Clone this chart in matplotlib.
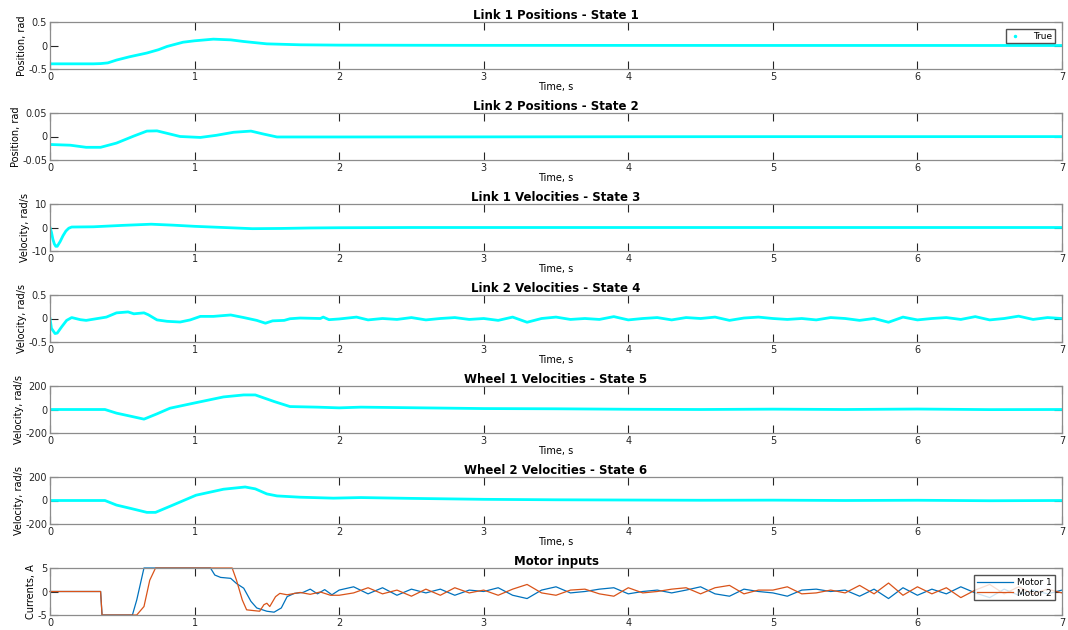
import matplotlib.pyplot as plt
from matplotlib.lines import Line2D
from matplotlib.ticker import FuncFormatter
import numpy as np

plt.rcParams['font.family'] = 'DejaVu Sans'
plt.rcParams['axes.unicode_minus'] = False

# Link 1 position
t_p1 = [0, 0.1, 0.2, 0.3, 0.35, 0.4, 0.46, 0.55, 0.67, 0.75, 0.81, 0.92, 1.0, 1.13,
        1.25, 1.34, 1.5, 1.73, 2.0, 2.5, 3, 4, 5, 6, 7]
pos1 = [-0.39, -0.39, -0.39, -0.39, -0.385, -0.37, -0.31, -0.24, -0.16, -0.09, -0.02,
        0.07, 0.1, 0.135, 0.12, 0.085, 0.035, 0.015, 0.008, 0.005, 0.003, 0.002, 0.001,
        0.001, 0.0]

# Link 2 position
t_p2 = [0, 0.14, 0.25, 0.35, 0.46, 0.58, 0.67, 0.74, 0.82, 0.9, 1.04, 1.15, 1.27, 1.39,
        1.48, 1.57, 2, 3, 4, 5, 6, 7]
pos2 = [-0.017, -0.0185, -0.023, -0.023, -0.014, 0.001, 0.0115, 0.012, 0.006, 0.0,
        -0.002, 0.0025, 0.009, 0.0115, 0.005, -0.001, -0.001, -0.0008, -0.0005, -0.0003,
        -0.0003, -0.0002]

# Link 1 velocity
t_v1 = [0, 0.01, 0.02, 0.03, 0.04, 0.05, 0.07, 0.09, 0.11, 0.13, 0.15, 0.3, 0.5, 0.7,
        0.85, 1.0, 1.2, 1.4, 1.6, 1.8, 2.0, 2.5, 3, 4, 5, 6, 7]
vel1 = [0, -2, -5, -7, -8, -8, -6, -3.5, -1.5, -0.3, 0.2, 0.3, 0.9, 1.4, 1.0, 0.5, 0,
        -0.5, -0.4, -0.2, -0.1, 0, 0, 0, 0, 0, 0]

# Link 2 velocity
t_v2 = [0, 0.01, 0.035, 0.05, 0.08, 0.115, 0.15, 0.21, 0.25, 0.35, 0.39, 0.46, 0.54,
        0.58, 0.65, 0.68, 0.74, 0.81, 0.9, 0.97, 1.04, 1.13, 1.25, 1.34, 1.43, 1.49,
        1.54, 1.62, 1.66, 1.73, 1.87, 1.89, 1.93, 2.0, 2.12,
        2.2, 2.3, 2.4, 2.5, 2.6, 2.7, 2.8, 2.9, 3.0, 3.1, 3.2, 3.3, 3.4, 3.5, 3.6, 3.7,
        3.8, 3.9, 4.0, 4.1, 4.2, 4.3, 4.4, 4.5, 4.6, 4.7, 4.8, 4.9, 5.0, 5.1, 5.2, 5.3,
        5.4, 5.5, 5.6, 5.7, 5.8, 5.9, 6.0, 6.1, 6.2, 6.3, 6.4, 6.5, 6.6, 6.7, 6.8, 6.9,
        7.0]
vel2 = [0, -0.21, -0.32, -0.31, -0.18, -0.04, 0.02, -0.025, -0.04, 0.01, 0.03, 0.12,
        0.14, 0.1, 0.12, 0.08, -0.03, -0.06, -0.075, -0.03, 0.045, 0.045, 0.075, 0.02,
        -0.04, -0.1, -0.05, -0.04, -0.005, 0.01, 0, 0.03, -0.025, -0.01, 0.03,
        -0.03, 0.0, -0.02, 0.02, -0.03, 0.0, 0.02, -0.02, 0.0, -0.04, 0.03, -0.08, 0.0,
        0.03, -0.02, 0.0, -0.02, 0.04, -0.03, 0.0, 0.02, -0.03, 0.02, 0.0, 0.03, -0.04,
        0.01, 0.03, 0.0, -0.02, 0.0, -0.03, 0.02, 0.0, -0.04, 0.0, -0.08, 0.03, -0.03,
        0.0, 0.02, -0.02, 0.04, -0.03, 0.0, 0.05, -0.02, 0.02, 0.0]

# Wheel velocities
t_w1 = [0, 0.38, 0.46, 0.55, 0.65, 0.74, 0.83, 0.99, 1.2, 1.34, 1.42, 1.55, 1.66, 1.85,
        2.0, 2.15, 2.5, 3.0, 3.5, 4.0, 4.5, 5.0, 5.5, 6.0, 6.5, 7.0]
wheel1 = [0, 0, -31, -55, -82, -37, 11, 53, 107, 124, 124, 68, 25, 20, 14, 20, 15, 8, 6,
          2, 0, 3, 0, 4, -1, 0]
t_w2 = [0, 0.38, 0.46, 0.56, 0.67, 0.73, 0.85, 1.01, 1.2, 1.35, 1.42, 1.5, 1.57, 1.73,
        1.96, 2.15, 2.5, 3.0, 3.5, 4.0, 4.5, 5.0, 5.5, 6.0, 6.5, 7.0]
wheel2 = [0, 0, -39, -68, -101, -101, -39, 45, 96, 115, 99, 56, 39, 28, 20, 25, 18, 10,
          6, 4, 2, 3, 0, 2, -2, 0]

# Motor inputs
t_tail = [round(2.0 + 0.1 * i, 1) for i in range(51)]
t_m1 = [0, 0.35, 0.36, 0.57, 0.6, 0.65, 1.11, 1.14, 1.18, 1.25, 1.29, 1.34, 1.39, 1.43,
        1.5, 1.55, 1.6, 1.64, 1.69, 1.75, 1.8, 1.85, 1.9, 1.95] + t_tail
motor1 = [0, 0, -5, -5, -1.8, 5, 5, 3.5, 3.0, 2.8, 1.7, 0.7, -2.1, -3.5, -4.2, -4.4,
          -3.5, -1.1, -0.4, -0.2, 0.5, -0.5, 0.4, -0.7,
          0.3, 1.0, -0.5, 0.8, -0.8, 0.5, -0.3, 0.5, -0.8, 0.3, 0.0, 0.8, -0.8, -1.5,
          0.3, 1.0, -0.3, 0.0, 0.5, 0.8, -0.5, 0.0, 0.3, -0.3, 0.3, 1.0, -0.5, -1.0,
          0.5, 0.0, -0.3, -1.0, 0.3, 0.5, 0.0, 0.3, -1.0, 0.5, -1.5, 0.8, -0.8, 0.5,
          -0.5, 1.0, -0.3, -1.3, 0.5, -0.8, 0.3, -0.5, 0.3]
t_m2 = [0, 0.35, 0.36, 0.6, 0.65, 0.69, 0.73, 1.26, 1.29, 1.33, 1.36, 1.45, 1.48, 1.5,
        1.52, 1.56, 1.59, 1.64, 1.73, 1.8, 1.87, 1.94] + t_tail
motor2 = [0, 0, -5, -5, -3.2, 2.4, 5, 5, 2.4, -1.8, -3.9, -4.2, -2.8, -2.5, -3.2, -1.1,
          -0.4, -0.7, -0.2, -0.6, -0.1, -0.8,
          -0.8, -0.3, 0.8, -0.5, 0.3, -1.0, 0.5, -0.8, 0.8, -0.3, 0.3, -0.8, 0.5, 1.5,
          -0.3, -0.8, 0.3, 0.5, -0.5, -1.0, 0.8, -0.3, 0.0, 0.5, 0.8, -0.5, 0.8, 1.3,
          -0.5, 0.3, 0.3, 1.0, -0.5, -0.3, 0.3, -0.3, 1.3, -0.5, 1.8, -0.8, 1.0, -0.5,
          0.8, -1.3, 0.3, 1.5, -0.5, 1.0, -0.5, 0.5, -0.3]

states = [
    (t_p1, pos1, 'Link 1 Positions - State 1', 'Position, rad', [-0.5, 0, 0.5]),
    (t_p2, pos2, 'Link 2 Positions - State 2', 'Position, rad', [-0.05, 0, 0.05]),
    (t_v1, vel1, 'Link 1 Velocities - State 3', 'Velocity, rad/s', [-10, 0, 10]),
    (t_v2, vel2, 'Link 2 Velocities - State 4', 'Velocity, rad/s', [-0.5, 0, 0.5]),
    (t_w1, wheel1, 'Wheel 1 Velocities - State 5', 'Velocity, rad/s', [-200, 0, 200]),
    (t_w2, wheel2, 'Wheel 2 Velocities - State 6', 'Velocity, rad/s', [-200, 0, 200]),
]

W, H = 1068, 630
fig = plt.figure(figsize=(W / 100, H / 100), dpi=100)
tops = [22, 113, 204, 295, 386, 477, 568]
ax_h = 47


def style(ax, yt):
    ax.set_xlim(0, 7)
    ax.set_ylim(yt[0], yt[-1])
    ax.set_xticks(range(8))
    ax.set_yticks(yt)
    ax.yaxis.set_major_formatter(FuncFormatter(lambda v, p: f'{v:g}'))
    ax.tick_params(direction='in', length=6, width=0.8, top=True, right=True,
                   labelsize=7, colors='#262626', pad=2)
    for s in ax.spines.values():
        s.set_color('#8c8c8c')
        s.set_linewidth(0.9)


axes = []
for i, top in enumerate(tops):
    ax = fig.add_axes([50 / W, 1 - (top + ax_h) / H, 1012 / W, ax_h / H])
    axes.append(ax)

for ax, (t, y, title, ylab, yt) in zip(axes[:6], states):
    ax.plot(t, y, color='cyan', lw=2.0)
    style(ax, yt)
    ax.set_title(title, fontsize=8.5, fontweight='bold', pad=2.5)
    ax.set_ylabel(ylab, fontsize=7, labelpad=1)
    ax.set_xlabel('Time, s', fontsize=7, labelpad=0)

true_handle = Line2D([], [], color='cyan', marker='.', markersize=3, linestyle='none')
axes[0].legend([true_handle], ['True'], loc='upper right', bbox_to_anchor=(0.993, 0.85),
               fontsize=6.5, frameon=True, fancybox=False, edgecolor='#262626',
               handlelength=1.5, borderpad=0.3, handletextpad=1.2, borderaxespad=0)

ax = axes[6]
ax.plot(t_m1, motor1, color='#0072BD', lw=0.9, label='Motor 1', clip_on=False)
ax.plot(t_m2, motor2, color='#D95319', lw=0.9, label='Motor 2', clip_on=False)
style(ax, [-5, 0, 5])
ax.set_title('Motor inputs', fontsize=8.5, fontweight='bold', pad=2.5)
ax.set_ylabel('Currents, A', fontsize=7, labelpad=1)
ax.legend(loc='upper right', bbox_to_anchor=(0.993, 0.85), fontsize=6.5, frameon=True,
          fancybox=False, edgecolor='#262626', handlelength=4, borderpad=0.3,
          handletextpad=0.5, labelspacing=0.2, borderaxespad=0)

fig.savefig('out.png', dpi=100, facecolor='white')
